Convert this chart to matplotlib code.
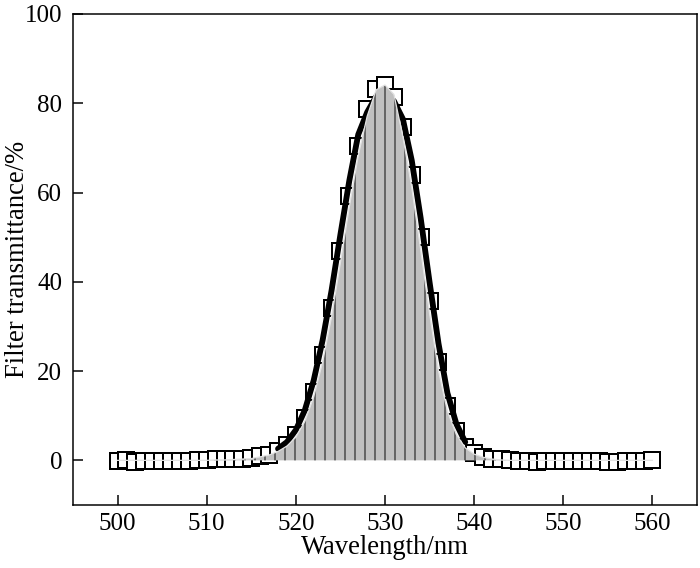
import matplotlib
matplotlib.use("Agg")
import matplotlib.pyplot as plt

plt.rcParams['font.family'] = ['Liberation Serif', 'DejaVu Serif']
plt.rcParams['hatch.linewidth'] = 1.4
plt.rcParams['hatch.color'] = '#262626'

# measured points: wavelength (nm) and filter transmittance (%)
wavelength = list(range(500, 561))
transmittance = [
    -0.2, 0.1, -0.4, -0.2, -0.1, -0.1, -0.2, -0.2, -0.1, 0.0,
    0.1, 0.2, 0.3, 0.3, 0.4, 0.5, 0.9, 1.3, 2.2, 3.4,
    5.7, 9.4, 15.4, 23.7, 34.2, 46.8, 59.3, 70.5, 78.7, 83.2,
    84.1, 81.3, 74.7, 64.0, 50.1, 35.6, 22.1, 12.1, 6.5, 3.1,
    1.6, 0.8, 0.4, 0.2, 0.0, -0.1, -0.2, -0.3, -0.2, -0.2,
    -0.1, -0.2, -0.2, -0.1, -0.2, -0.3, -0.3, -0.2, -0.1, -0.1,
    0.0,
]

# thick black curve (only drawn over the peak, 518-539 nm)
curve_wl = list(range(518, 540))
curve_val = [
    2.6, 4.1, 6.8, 11.2, 17.9, 26.9, 38.0, 50.6, 62.7, 73.0,
    78.0, 81.5, 82.5, 80.5, 76.5, 67.2, 54.3, 39.9, 26.2, 15.1,
    8.2, 4.1,
]

# grey filled profile over the whole range
fill_val = [
    0.0, 0.0, 0.0, 0.0, 0.0, 0.0, 0.0, 0.0, 0.0, 0.0,
    0.0, 0.1, 0.1, 0.2, 0.3, 0.4, 0.8, 1.2, 2.0, 3.2,
    5.2, 8.7, 14.2, 22.0, 32.1, 44.3, 56.8, 68.3, 77.1, 83.0,
    84.1, 82.0, 72.6, 61.2, 47.2, 32.9, 20.1, 11.0, 5.8, 2.8,
    1.4, 0.7, 0.3, 0.1, 0.0, 0.0, 0.0, 0.0, 0.0, 0.0,
    0.0, 0.0, 0.0, 0.0, 0.0, 0.0, 0.0, 0.0, 0.0, 0.0,
    0.0,
]

xticks = [500, 510, 520, 530, 540, 550, 560]
yticks = [0, 20, 40, 60, 80, 100]

# dpi 60 -> one '|' hatch gives lines every 10 px like the original
fig = plt.figure(figsize=(700 / 60, 568 / 60), dpi=60)
ax = fig.add_axes([73 / 700, 63 / 568, 624 / 700, 491 / 568])

ax.plot(wavelength, transmittance, ls='none', marker='s', ms=20,
        mfc='white', mec='black', mew=2.4, zorder=2)
ax.plot(curve_wl, curve_val, color='black', lw=7,
        solid_joinstyle='round', solid_capstyle='round', zorder=3)
ax.fill_between(wavelength, 0, fill_val, facecolor='#c0c0c0',
                edgecolor='#262626', hatch='|', linewidth=0, zorder=4)
ax.plot(wavelength, fill_val, color='#e2e2e2', lw=1.5, zorder=5)

ax.set_xlim(495, 565)
ax.set_ylim(-10, 100)
ax.set_xticks(xticks)
ax.set_yticks(yticks)
ax.tick_params(direction='in', length=12, width=1.8, labelsize=30,
               top=False, right=False)
ax.tick_params(axis='x', pad=9)
ax.tick_params(axis='y', pad=13)
for s in ax.spines.values():
    s.set_linewidth(1.8)

ax.set_xlabel('Wavelength/nm', fontsize=32, labelpad=0)
ax.set_ylabel('Filter transmittance/%', fontsize=32, labelpad=-7)

fig.savefig('out.png', dpi=60)
